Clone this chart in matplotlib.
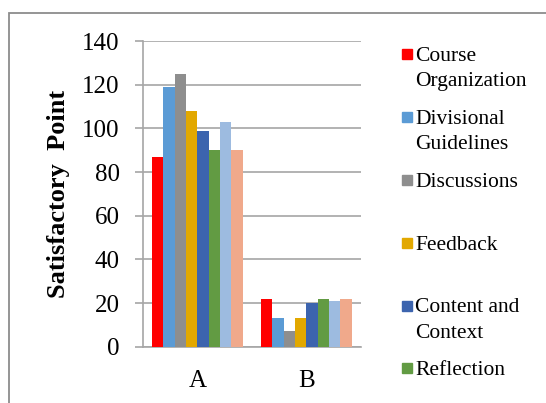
import matplotlib
matplotlib.use('Agg')
import matplotlib.pyplot as plt
from matplotlib.patches import Rectangle
import numpy as np

plt.rcParams['font.family'] = ['Liberation Serif', 'DejaVu Serif']

groups = ['A', 'B']
series = ['Course\nOrganization', 'Divisional\nGuidelines', 'Discussions', 'Feedback',
          'Content and\nContext', 'Reflection', '', '']
values = [
    [87, 22],
    [119, 13],
    [125, 7],
    [108, 13],
    [99, 20],
    [90, 22],
    [103, 21],
    [90, 22],
]
colors = ['#FF0000', '#5B9BD5', '#8E8E8E', '#E2A800', '#3C64AE', '#629B43', '#9DBBE0', '#F0A98B']

W, H = 546, 403
fig = plt.figure(figsize=(W / 100, H / 100), dpi=100)
ax = fig.add_axes([142.7 / W, 1 - 346.7 / H, (361 - 142.7) / W, (346.7 - 41) / H])

x = np.arange(len(groups))
bw = 0.83 / len(series)
for i, (vals, c) in enumerate(zip(values, colors)):
    off = (i - (len(series) - 1) / 2) * bw
    ax.bar(x + off, vals, bw, color=c, zorder=3)

ax.set_xlim(-0.5, 1.5)
ax.set_ylim(0, 140)
ax.set_yticks(range(0, 141, 20))
ax.set_xticks(x, groups)
ax.yaxis.grid(True, color='#A6A6A6', linewidth=1.2, zorder=0)
for s in ['top', 'right']:
    ax.spines[s].set_visible(False)
for s in ['left', 'bottom']:
    ax.spines[s].set_color('#A6A6A6')
    ax.spines[s].set_linewidth(1.2)
ax.tick_params(axis='y', length=5.5, color='#A6A6A6', width=1.2, pad=11, labelsize=18)
ax.tick_params(axis='x', length=0, pad=17, labelsize=18)
ax.set_ylabel('Satisfactory  Point', fontsize=19, fontweight='bold', labelpad=9)

# legend drawn by hand (Excel-style fixed slots)
for i, (lab, c) in enumerate(zip(series, colors)):
    if not lab:
        continue
    yc = 54.3 + 62.8 * i
    fig.patches.append(Rectangle((401.7 / W, 1 - (yc + 5) / H), 10 / W, 10 / H,
                                 transform=fig.transFigure, color=c))
    for j, line in enumerate(lab.split('\n')):
        fig.text(415 / W, 1 - (yc + 7 + 25 * j) / H, line, fontsize=15.5,
                 family='Liberation Serif', va='baseline', ha='left')

# outer chart border
fig.patches.append(Rectangle((8.5 / W, -0.2), 2, 1.2 - 12.5 / H, transform=fig.transFigure,
                             fill=False, edgecolor='#8C8C8C', linewidth=1.3))

fig.savefig('out.png', dpi=100)
